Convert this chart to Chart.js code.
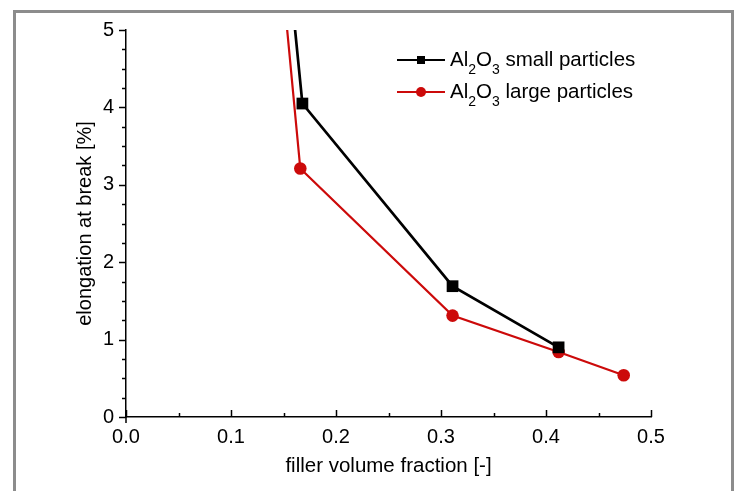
<!DOCTYPE html>
<html>
<head>
<meta charset="utf-8">
<script src="https://cdn.jsdelivr.net/npm/chart.js@4/dist/chart.umd.min.js"></script>
<style>
  html, body { margin: 0; padding: 0; background: #fff; overflow: hidden; }
  #frame { position: absolute; left: 13px; top: 10px; width: 721px; height: 520px;
           border: 3px solid #8c8c8c; box-sizing: border-box; }
  #c { position: absolute; left: 0; top: 0; }
</style>
</head>
<body>
<div id="frame"></div>
<canvas id="c" width="739" height="491"></canvas>
<script>
// ---- data ----
const seriesNames = ['Al\u2082O\u2083 small particles', 'Al\u2082O\u2083 large particles'];
const smallX = [0.0, 0.168, 0.311, 0.412];
const smallY = [27, 4.05, 1.69, 0.90];
const largeX = [0.0, 0.166, 0.311, 0.412, 0.474];
const largeY = [27, 3.21, 1.31, 0.84, 0.54];
const xTickValues = [0.0, 0.1, 0.2, 0.3, 0.4, 0.5];
const yTickValues = [0, 1, 2, 3, 4, 5];
const xMinorStep = 0.05;
const yMinorStep = 0.25;
const xTitle = 'filler volume fraction [-]';
const yTitle = 'elongation at break [%]';

const FONT = '"Liberation Sans", Arial, sans-serif';
const RED = '#cc0a0a';

function pts(xs, ys) { return xs.map((x, i) => ({ x: x, y: ys[i] })); }

const tickPlugin = {
  id: 'customTicks',
  afterDraw(chart) {
    const ctx = chart.ctx, xs = chart.scales.x, ys = chart.scales.y;
    ctx.save();
    ctx.strokeStyle = '#000';
    ctx.lineWidth = 1.5;
    const nx = Math.round((xs.max - xs.min) / xMinorStep);
    for (let i = 0; i <= nx; i++) {
      const v = xs.min + i * xMinorStep;
      const px = Math.round(xs.getPixelForValue(v)) + 0.5;
      const major = xTickValues.some(t => Math.abs(t - v) < 1e-9);
      const len = major ? 7 : 4;
      ctx.beginPath(); ctx.moveTo(px, xs.top); ctx.lineTo(px, xs.top - len); ctx.stroke();
    }
    // small extension of the vertical axis below the origin
    const ox = xs.getPixelForValue(xs.min);
    ctx.beginPath(); ctx.moveTo(ox, xs.top); ctx.lineTo(ox, xs.top + 6); ctx.stroke();
    const ny = Math.round((ys.max - ys.min) / yMinorStep);
    for (let i = 0; i <= ny; i++) {
      const v = ys.min + i * yMinorStep;
      const py = Math.round(ys.getPixelForValue(v)) + 0.5;
      const major = yTickValues.some(t => Math.abs(t - v) < 1e-9);
      const len = major ? 7 : 4;
      ctx.beginPath(); ctx.moveTo(ys.right, py); ctx.lineTo(ys.right - len, py); ctx.stroke();
    }
    ctx.restore();
  }
};

function drawRichText(ctx, text, x, y, size) {
  // draws text with unicode subscript digits rendered as real subscripts
  let cx = x;
  for (const ch of text) {
    const code = ch.charCodeAt(0);
    if (code >= 0x2080 && code <= 0x2089) {
      const d = String.fromCharCode(48 + code - 0x2080);
      ctx.font = Math.round(size * 0.68) + 'px ' + FONT;
      ctx.fillText(d, cx, y + size * 0.5);
      cx += ctx.measureText(d).width;
    } else {
      ctx.font = size + 'px ' + FONT;
      ctx.fillText(ch, cx, y);
      cx += ctx.measureText(ch).width;
    }
  }
}

const legendPlugin = {
  id: 'customLegend',
  afterDraw(chart) {
    const ctx = chart.ctx, area = chart.chartArea;
    ctx.save();
    const x0 = area.left + 271, y0 = area.top + 30, rowH = 32;
    chart.data.datasets.forEach((ds, i) => {
      const y = y0 + i * rowH;
      ctx.strokeStyle = ds.borderColor;
      ctx.lineWidth = 2.2;
      ctx.beginPath(); ctx.moveTo(x0, y); ctx.lineTo(x0 + 48, y); ctx.stroke();
      ctx.fillStyle = ds.pointBackgroundColor;
      if (ds.pointStyle === 'rect') {
        ctx.fillRect(x0 + 20, y - 4, 8, 8);
      } else {
        ctx.beginPath(); ctx.arc(x0 + 24, y, 5, 0, Math.PI * 2); ctx.fill();
      }
      ctx.fillStyle = '#000';
      ctx.textBaseline = 'middle';
      drawRichText(ctx, ds.label, x0 + 53, y, 20.5);
    });
    ctx.restore();
  }
};

new Chart(document.getElementById('c'), {
  type: 'line',
  data: {
    datasets: [
      { label: seriesNames[0], data: pts(smallX, smallY), borderColor: '#000', borderWidth: 2.7,
        pointStyle: 'rect', pointRadius: 8.3, pointBackgroundColor: '#000', pointBorderColor: '#000',
        pointBorderWidth: 0, tension: 0 },
      { label: seriesNames[1], data: pts(largeX, largeY), borderColor: RED, borderWidth: 2.2,
        pointStyle: 'circle', pointRadius: 6.3, pointBackgroundColor: RED, pointBorderColor: RED,
        pointBorderWidth: 0, tension: 0 }
    ]
  },
  options: {
    responsive: false,
    animation: false,
    devicePixelRatio: 1,
    layout: { padding: { left: 73, top: 30, right: 88, bottom: 12 } },
    plugins: { legend: { display: false }, tooltip: { enabled: false } },
    scales: {
      x: {
        type: 'linear', min: 0, max: 0.5,
        afterBuildTicks: s => { s.ticks = xTickValues.map(v => ({ value: v })); },
        afterFit: s => { s.height = 62; },
        grid: { drawOnChartArea: false, drawTicks: false },
        border: { display: true, color: '#000', width: 1.5 },
        ticks: { color: '#000', font: { family: FONT, size: 20 }, padding: 8,
                 maxRotation: 0, callback: v => Number(v).toFixed(1) },
        title: { display: true, text: xTitle, color: '#000', font: { family: FONT, size: 20.5 }, padding: 0 }
      },
      y: {
        type: 'linear', min: 0, max: 5,
        afterBuildTicks: s => { s.ticks = yTickValues.map(v => ({ value: v })); },
        afterFit: s => { s.width = 53; },
        grid: { drawOnChartArea: false, drawTicks: false },
        border: { display: true, color: '#000', width: 1.5 },
        ticks: { color: '#000', font: { family: FONT, size: 20 }, padding: 12,
                 callback: v => String(v) },
        title: { display: true, text: yTitle, color: '#000', font: { family: FONT, size: 20 }, padding: 0 }
      }
    }
  },
  plugins: [tickPlugin, legendPlugin]
});
</script>
</body>
</html>
